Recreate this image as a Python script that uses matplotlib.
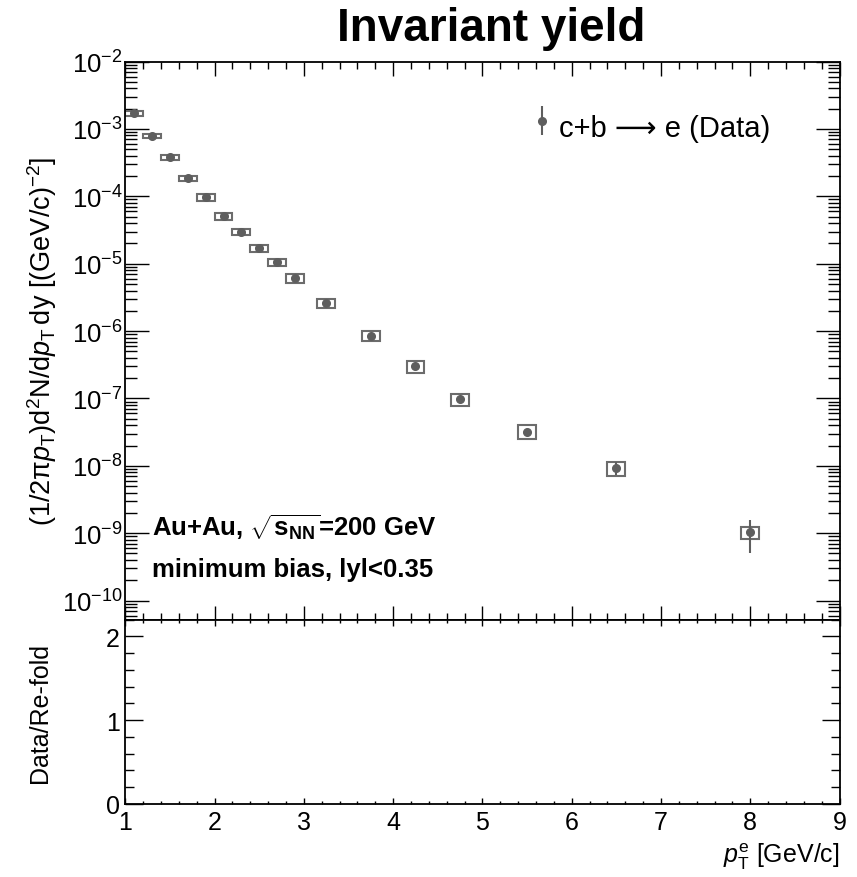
import matplotlib
matplotlib.use("Agg")
import matplotlib.pyplot as plt
import matplotlib.ticker as mticker
from matplotlib.patches import Rectangle

plt.rcParams['font.family'] = ['Liberation Sans', 'DejaVu Sans']
plt.rcParams['mathtext.fontset'] = 'custom'
plt.rcParams['mathtext.rm'] = 'Liberation Sans'
plt.rcParams['mathtext.it'] = 'Liberation Sans:italic'
plt.rcParams['mathtext.bf'] = 'Liberation Sans:bold'

# c+b -> e invariant yield, Au+Au min. bias
pt = [1.1, 1.3, 1.5, 1.7, 1.9, 2.1, 2.3, 2.5, 2.7, 2.9,
      3.25, 3.75, 4.25, 4.75, 5.5, 6.5, 8.0]
yld = [1.71e-3, 7.85e-4, 3.79e-4, 1.85e-4, 9.66e-5, 5.05e-5, 2.98e-5,
       1.71e-5, 1.05e-5, 6.13e-6, 2.58e-6, 8.5e-7, 2.99e-7, 9.7e-8,
       3.23e-8, 9.25e-9, 1.03e-9]
stat = [2e-5, 8e-6, 4e-6, 2e-6, 1e-6, 6e-7, 4e-7, 2.5e-7, 1.6e-7, 1e-7,
        5e-8, 2e-8, 8e-9, 3.5e-9, 2.5e-9, 2.0e-9, 5.2e-10]
syst = [1.4e-4, 5.7e-5, 3.0e-5, 1.7e-5, 9.9e-6, 5.8e-6, 3.4e-6, 2.1e-6,
        1.3e-6, 9.0e-7, 3.9e-7, 1.48e-7, 5.9e-8, 2.08e-8, 7.4e-9, 2.13e-9,
        2.2e-10]
box_hw = 0.1

W, H = 857, 878
fig = plt.figure(figsize=(W / 100, H / 100), dpi=100)

x0, x1 = 125.3 / W, 839.5 / W
ax = fig.add_axes([x0, 1 - 620.7 / H, x1 - x0, (620.7 - 62.6) / H])
axr = fig.add_axes([x0, 1 - 805 / H, x1 - x0, (805 - 620.7) / H])

gray = '#5e5e5e'
for xv, yv, sv in zip(pt, yld, syst):
    ax.add_patch(Rectangle((xv - box_hw, yv - sv), 2 * box_hw, 2 * sv,
                           fill=False, edgecolor='#6c6c6c', lw=1.5, zorder=2))
ax.errorbar(pt, yld, yerr=stat, fmt='o', color=gray, ms=5.5,
            elinewidth=1.5, capsize=0, zorder=3,
            label='c+b ⟶ e (Data)')

ax.set_yscale('log')
ax.set_xlim(1, 9)
ax.set_ylim(5.2e-11, 1e-2)
ax.xaxis.set_major_locator(mticker.MultipleLocator(1))
ax.xaxis.set_minor_locator(mticker.MultipleLocator(0.2))
ax.yaxis.set_major_locator(mticker.LogLocator(base=10, numticks=20))
ax.yaxis.set_minor_locator(mticker.LogLocator(base=10, subs=range(2, 10), numticks=20))
ax.yaxis.set_minor_formatter(mticker.NullFormatter())
ax.tick_params(which='both', direction='in', top=True, right=True, width=1.0)
ax.tick_params(axis='x', which='both', labelbottom=False)
ax.tick_params(axis='x', which='major', length=10)
ax.tick_params(axis='x', which='minor', length=5)
ax.tick_params(axis='y', which='major', length=17, labelsize=18.5, pad=2)
ax.tick_params(axis='y', which='minor', length=8.5, labelleft=False)
ax.set_ylabel(r'(1/2π$p_{\mathrm{T}}$)d$^{2}$N/d$p_{\mathrm{T}}\,$dy [(GeV/c)$^{-2}$]',
              fontsize=19.5, va='center')
ax.yaxis.set_label_coords((42 - 125.3) / 714.2, 0.5)

axr.set_xlim(1, 9)
axr.set_ylim(0, 2.2)
axr.xaxis.set_major_locator(mticker.MultipleLocator(1))
axr.xaxis.set_minor_locator(mticker.MultipleLocator(0.2))
axr.yaxis.set_major_locator(mticker.MultipleLocator(1))
axr.yaxis.set_minor_locator(mticker.MultipleLocator(0.2))
axr.tick_params(which='both', direction='in', top=True, right=True, width=1.0,
                labelsize=18)
axr.tick_params(axis='x', which='major', length=4.3, pad=4)
axr.tick_params(axis='x', which='minor', length=2.2, labelbottom=False)
axr.tick_params(axis='y', which='major', length=13, pad=4)
axr.tick_params(axis='y', which='minor', length=6.5, labelleft=False)
axr.set_ylabel('Data/Re-fold', fontsize=18, va='center')
axr.yaxis.set_label_coords((40 - 125.3) / 714.2, 0.5)
axr.set_xlabel(r'$p_{\mathrm{T}}^{\mathrm{e}}$ [GeV/c]', fontsize=18,
               ha='right', va='center')
axr.xaxis.set_label_coords(1.0, -(857 - 805) / 184.3)

for a in (ax, axr):
    for s in a.spines.values():
        s.set_linewidth(1.3)

ax.legend(loc='upper right', bbox_to_anchor=(0.94, 0.968), frameon=False,
          fontsize=21, handlelength=0.6, handleheight=1.8, handletextpad=0.3)

ax.text(0.037, 0.151, r'Au+Au, $\sqrt{\mathbf{s}_{\mathbf{NN}}}$=200 GeV',
        transform=ax.transAxes, fontsize=18.5, fontweight='bold',
        va='baseline')
ax.text(0.037, 0.078, 'minimum bias, lyl<0.35', transform=ax.transAxes,
        fontsize=18.5, fontweight='bold', va='baseline')

fig.text(491 / W, 1 - 41 / H, 'Invariant yield', fontsize=33,
         fontweight='bold', ha='center', va='baseline')

fig.savefig('out.png', dpi=100)
